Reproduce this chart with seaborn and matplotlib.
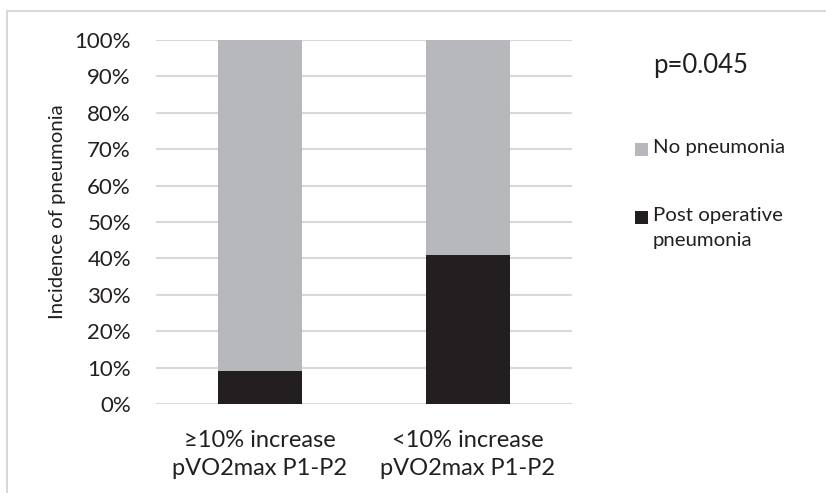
import matplotlib
matplotlib.use("Agg")
import matplotlib.pyplot as plt
from matplotlib.patches import Rectangle
from matplotlib.lines import Line2D
import seaborn as sns
import pandas as pd

categories = ["≥10% increase\npVO2max P1-P2", "<10% increase\npVO2max P1-P2"]
post_op_pneumonia = [9, 41]
no_pneumonia = [91, 59]
series_names = ["No pneumonia", "Post operative\npneumonia"]
yticks = [0, 10, 20, 30, 40, 50, 60, 70, 80, 90, 100]
ytick_labels = [f"{v}%" for v in yticks]

GRAY = "#B7B8BC"
DARK = "#231F20"
TXT = "#231F20"

sns.set_theme(style="white")
plt.rcParams["font.family"] = ["Lato", "DejaVu Sans"]

W, H = 826, 493
fig = plt.figure(figsize=(W / 100, H / 100), dpi=100)
ax = fig.add_axes([156 / W, 1 - 404 / H, (572 - 156) / W, (404 - 40) / H])

df = pd.DataFrame({
    "cat": categories,
    "pneu": post_op_pneumonia,
    "total": [a + b for a, b in zip(post_op_pneumonia, no_pneumonia)],
})

sns.barplot(data=df, x="cat", y="total", color=GRAY, width=0.4, ax=ax,
            saturation=1, zorder=3, edgecolor="none")
sns.barplot(data=df, x="cat", y="pneu", color=DARK, width=0.4, ax=ax,
            saturation=1, zorder=4, edgecolor="none")

ax.set_ylim(0, 100)
ax.set_xlim(-0.5, 1.5)
ax.set_yticks(yticks)
ax.set_yticklabels(ytick_labels)
ax.yaxis.grid(True, color="#D9D9D9", linewidth=1.5, zorder=0)
ax.xaxis.grid(False)
for s in ax.spines.values():
    s.set_visible(False)
ax.tick_params(axis="both", length=0, labelcolor=TXT)
ax.tick_params(axis="y", pad=18, labelsize=16)
ax.tick_params(axis="x", pad=19, labelsize=17)
for lbl in ax.get_xticklabels():
    lbl.set_linespacing(1.38)
ax.set_xlabel("")
ax.set_ylabel("Incidence of pneumonia", fontsize=14.7, color=TXT)
ax.yaxis.set_label_coords((66 - 156) / 416, (404 - 211.5) / 364)

# p-value
fig.text(653 / W, 1 - 65 / H, "p=0.045", fontsize=18.5, color=TXT,
         ha="left", va="center")

# legend
sq = 13
for (name, col, yc) in [(series_names[0], GRAY, 149), (series_names[1], DARK, 217)]:
    fig.add_artist(Rectangle((635 / W, 1 - (yc + sq / 2) / H), sq / W, sq / H,
                             transform=fig.transFigure, facecolor=col,
                             edgecolor="none"))
    fig.text(653 / W, 1 - (yc - 10) / H, name, fontsize=14.7, color=TXT,
             ha="left", va="top", linespacing=1.58)

# frame (top and left)
fig.add_artist(Line2D([7 / W, 7 / W], [0, 1 - 11 / H], transform=fig.transFigure,
                      color="#D9D9D9", linewidth=1.5))
fig.add_artist(Line2D([7 / W, 1], [1 - 11 / H, 1 - 11 / H], transform=fig.transFigure,
                      color="#D9D9D9", linewidth=1.5))

fig.savefig("out.png", dpi=100)
